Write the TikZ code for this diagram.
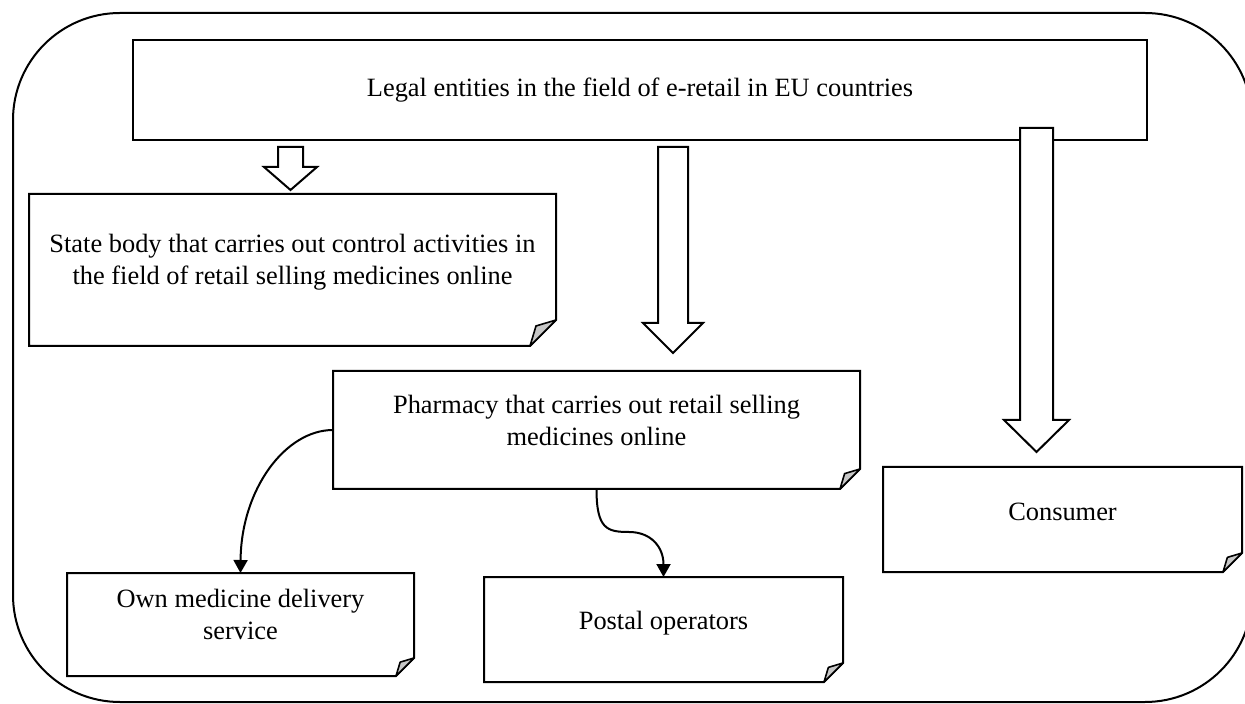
\documentclass[tikz,border=0pt]{standalone}
\usepackage{fontspec}
\setmainfont{Liberation Serif}
\usetikzlibrary{arrows.meta,calc,fit}
\newcommand\foldbox[6]{%
  \node[fit={(#2,#3)(#4,#5)}, inner sep=0pt, outer sep=0pt] (#1) {};
  \draw[boxline] ($(#1.south east)+(0,-#6)$) -- (#1.north east) -- (#1.north west) -- (#1.south west) -- ($(#1.south east)+(-#6,0)$) -- cycle;
  \draw[flap] ($(#1.south east)+(0,-#6)$) -- ($(#1.south east)+(-0.77*#6,-0.77*#6)$) -- ($(#1.south east)+(-#6,0)$) -- cycle;
}
\begin{document}
\begin{tikzpicture}[x=0.5pt,y=-0.5pt,
  boxline/.style={line width=1pt, line join=miter},
  txt/.style={font=\fontsize{13.2}{16}\selectfont, align=center, inner sep=0pt},
  hollow/.style={draw, fill=white, line width=1pt, line join=miter},
  flap/.style={fill=black!22, draw, line width=0.8pt, line join=round},
  curvearrow/.style={line width=1pt, -{Triangle[length=6.5pt,width=7pt]}},
]
\useasboundingbox (0,0) rectangle (1245,704);
\begin{scope}
  \clip (0,0) rectangle (1245,704);
  \draw[line width=1pt, rounded corners=53.5pt] (13,13) rectangle (1252,702);
\end{scope}

% top box
\node[fit={(133,40)(1147,140)}, inner sep=0pt, draw, boxline] (legal) {};
\node[txt] (legalT) at (legal.center) {Legal entities in the field of e-retail in EU countries};

% folded boxes
\foldbox{state}{29}{194}{556}{346}{26}
\node[txt] (stateT) at (292.5,262) {State body that carries out control activities in\\the field of retail selling medicines online};

\foldbox{pharm}{333}{371}{860}{489}{20}
\node[txt] (pharmT) at (596.5,420) {Pharmacy that carries out retail selling\\medicines online};

\foldbox{cons}{883}{467}{1242}{572}{19}
\node[txt] (consT) at (1062.5,511.5) {Consumer};

\foldbox{own}{67}{573}{414}{676}{18}
\node[txt] (ownT) at (240.5,614) {Own medicine delivery\\service};

\foldbox{post}{484}{577}{843}{682}{19}
\node[txt] (postT) at (663.5,623) {Postal operators};

% hollow block arrows
\draw[hollow] (278,147) -- (303,147) -- (303,167) -- (317,167) -- (290.5,190) -- (264,167) -- (278,167) -- cycle;
\draw[hollow] (658,147) -- (688,147) -- (688,323) -- (703,323) -- (673,353) -- (643,323) -- (658,323) -- cycle;
\draw[hollow] (1020,128) -- (1053,128) -- (1053,420) -- (1069,420) -- (1036.5,452) -- (1004,420) -- (1020,420) -- cycle;

% curved arrows
\draw[curvearrow] (pharm.west) .. controls (285,430) and (241,490) .. (own.north);
\coordinate (bend) at (629,532);
\draw[curvearrow] (pharm.south) .. controls +(0,40) and +(-22,0) .. (bend) .. controls +(22,0) and +(0,-30) .. (post.north);
\end{tikzpicture}
\end{document}
